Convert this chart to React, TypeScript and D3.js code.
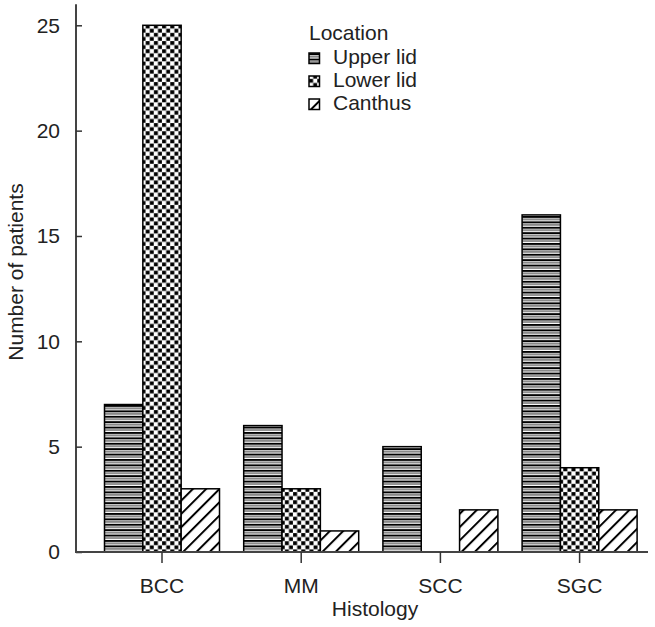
import React, { useEffect, useRef } from 'react';
import * as d3 from 'd3';

const categories = ['BCC', 'MM', 'SCC', 'SGC'];
const locations = ['Upper lid', 'Lower lid', 'Canthus'];
const upperLid = [7, 6, 5, 16];
const lowerLid = [25, 3, 0, 4];
const canthus = [3, 1, 2, 2];
const yTicks = [0, 5, 10, 15, 20, 25];

const W = 655;
const H = 627;
const FONT = '"Liberation Sans", Arial, sans-serif';
const FS = 21;

export default function App() {
  const ref = useRef<SVGSVGElement>(null);

  useEffect(() => {
    const svg = d3.select(ref.current);
    svg.selectAll('*').remove();

    const series = [upperLid, lowerLid, canthus];
    const patternIds = ['pat-upper', 'pat-lower', 'pat-canthus'];

    // patterns
    const defs = svg.append('defs');
    const stripes = defs
      .append('pattern')
      .attr('id', 'pat-upper')
      .attr('patternUnits', 'userSpaceOnUse')
      .attr('width', 8)
      .attr('height', 5.4);
    stripes.append('rect').attr('width', 8).attr('height', 5.4).attr('fill', '#fff');
    stripes.append('rect').attr('y', 0).attr('width', 8).attr('height', 2).attr('fill', '#000');
    stripes.append('rect').attr('y', 2.8).attr('width', 8).attr('height', 1.5).attr('fill', '#777');

    const checks = defs
      .append('pattern')
      .attr('id', 'pat-lower')
      .attr('patternUnits', 'userSpaceOnUse')
      .attr('width', 8.2)
      .attr('height', 8.2);
    checks.append('rect').attr('width', 8.2).attr('height', 8.2).attr('fill', '#fff');
    checks.append('rect').attr('x', 0.1).attr('y', 0.1).attr('width', 4).attr('height', 3.8).attr('fill', '#000');
    checks.append('rect').attr('x', 4.2).attr('y', 4.2).attr('width', 3.9).attr('height', 3.8).attr('fill', '#000');

    const hatch = defs
      .append('pattern')
      .attr('id', 'pat-canthus')
      .attr('patternUnits', 'userSpaceOnUse')
      .attr('width', 9.4)
      .attr('height', 9.4)
      .attr('patternTransform', 'rotate(45)');
    hatch.append('rect').attr('width', 9.4).attr('height', 9.4).attr('fill', '#fff');
    hatch.append('line').attr('x1', 1).attr('x2', 1).attr('y1', 0).attr('y2', 9.4)
      .attr('stroke', '#000').attr('stroke-width', 2);

    const x0 = d3.scaleBand().domain(categories).range([92.4, 649.2]);
    const x1 = d3.scaleBand().domain(locations).range([-57.5, 57.5]);
    const y = d3.scaleLinear().domain([0, 25]).range([552, 25.3]);

    // bars
    const group = svg
      .selectAll('g.grp')
      .data(categories)
      .join('g')
      .attr('class', 'grp')
      .attr('transform', d => `translate(${x0(d)! + x0.bandwidth() / 2},0)`);

    group
      .selectAll('rect')
      .data((d, i) => locations.map((loc, j) => ({ loc, j, v: series[j][i] })).filter(e => e.v > 0))
      .join('rect')
      .attr('x', d => x1(d.loc)!)
      .attr('y', d => y(d.v))
      .attr('width', x1.bandwidth())
      .attr('height', d => y(0) - y(d.v))
      .attr('fill', d => `url(#${patternIds[d.j]})`)
      .attr('stroke', '#000')
      .attr('stroke-width', 1.5);

    // y axis
    svg
      .append('line')
      .attr('x1', 76)
      .attr('x2', 76)
      .attr('y1', y(26))
      .attr('y2', y(0))
      .attr('stroke', '#444')
      .attr('stroke-width', 2);
    const yAxis = svg
      .append('g')
      .attr('transform', 'translate(76,0)')
      .call(d3.axisLeft(y).tickValues(yTicks).tickSizeInner(-6).tickSizeOuter(0).tickPadding(16));
    yAxis.select('.domain').remove();
    yAxis.selectAll('line').attr('stroke', '#333').attr('stroke-width', 1.5);
    yAxis.selectAll('text').attr('font-size', FS).attr('font-family', FONT).attr('fill', '#222');

    // x axis
    svg
      .append('line')
      .attr('x1', 75)
      .attr('x2', 648)
      .attr('y1', y(0))
      .attr('y2', y(0))
      .attr('stroke', '#444')
      .attr('stroke-width', 2);
    const xAxis = svg
      .append('g')
      .attr('transform', `translate(0,${y(0)})`)
      .call(d3.axisBottom(x0).tickSizeInner(11).tickSizeOuter(0).tickPadding(15));
    xAxis.select('.domain').remove();
    xAxis.selectAll('line').attr('stroke', '#333').attr('stroke-width', 1.5);
    xAxis.selectAll('text').attr('font-size', FS).attr('font-family', FONT).attr('fill', '#222');

    // axis titles
    svg
      .append('text')
      .attr('x', 375)
      .attr('y', 616)
      .attr('text-anchor', 'middle')
      .attr('font-size', FS)
      .attr('font-family', FONT)
      .attr('fill', '#222')
      .text('Histology');

    svg
      .append('text')
      .attr('transform', 'translate(23,272) rotate(-90)')
      .attr('text-anchor', 'middle')
      .attr('font-size', FS)
      .attr('font-family', FONT)
      .attr('fill', '#222')
      .text('Number of patients');

    // legend
    const legend = svg.append('g').attr('transform', 'translate(309,0)');
    legend
      .append('text')
      .attr('x', 0)
      .attr('y', 39.5)
      .attr('font-size', FS)
      .attr('font-family', FONT)
      .attr('fill', '#222')
      .text('Location');
    const item = legend
      .selectAll('g.item')
      .data(locations)
      .join('g')
      .attr('class', 'item')
      .attr('transform', (d, i) => `translate(0,${64 + i * 23})`);
    item
      .append('rect')
      .attr('x', 0)
      .attr('y', -11)
      .attr('width', 10.5)
      .attr('height', 10.5)
      .attr('fill', (d, i) => `url(#${patternIds[i]})`)
      .attr('stroke', '#000')
      .attr('stroke-width', 1.5);
    item
      .append('text')
      .attr('x', 24)
      .attr('y', 0)
      .attr('font-size', FS)
      .attr('font-family', FONT)
      .attr('fill', '#222')
      .text(d => d);
  }, []);

  return (
    <svg
      ref={ref}
      width={W}
      height={H}
      style={{ position: 'absolute', left: 0, top: 0, background: '#fff' }}
    />
  );
}
